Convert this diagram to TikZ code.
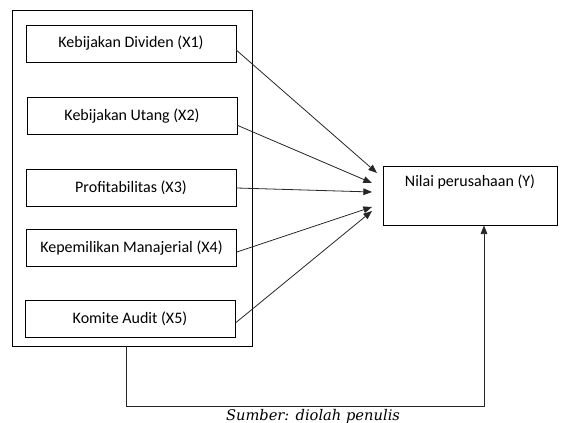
\documentclass[tikz,border=0pt]{standalone}
\usepackage{fontspec}
\setmainfont{Carlito}
\newfontfamily\capfont{DejaVu Serif}
\usetikzlibrary{arrows.meta}

\tikzset{
  varbox/.style={draw, line width=0.6pt, minimum width=157.5pt, minimum height=27.75pt, font=\fontsize{12}{14}\selectfont},
  arr/.style={draw=black!85, line width=0.6pt, -{Triangle[length=6.5pt,width=5pt]}}
}

\begin{document}
\begin{tikzpicture}[x=0.75pt,y=-0.75pt]
    \useasboundingbox (0,0) rectangle (561,423);

    % Outer box with the five variables
    \node[draw, line width=0.6pt, minimum width=180pt, minimum height=252pt] (grp) at (132,178) {};

    % Independent variables
    \node[varbox] (x1) at (131,43.5) {Kebijakan Dividen (X1)};
    \node[varbox] (x2) at (132,116) {Kebijakan Utang (X2)};
    \node[varbox] (x3) at (131,188) {Profitabilitas (X3)};
    \node[varbox] (x4) at (131.5,248) {Kepemilikan Manajerial (X4)};
    \node[varbox] (x5) at (130,319) {Komite Audit (X5)};

    % Dependent variable
    \node[draw, line width=0.6pt, minimum width=130.5pt, minimum height=44.25pt] (y) at (470,195.5) {};
    \node[anchor=north, font=\fontsize{12}{14}\selectfont] (ylab) at ([yshift=-3pt]y.north) {Nilai perusahaan (Y)};

    % Arrow ends
    \coordinate (t1) at (377,173);
    \coordinate (t2) at (372,183);
    \coordinate (t3) at (372,192);
    \coordinate (t4) at (372,207);
    \coordinate (t5) at (372,211);

    \draw[arr] ([yshift=-5pt]x1.east) -- (t1);
    \draw[arr] ([yshift=-7pt]x2.east) -- (t2);
    \draw[arr] (x3.east) -- (t3);
    \draw[arr] ([yshift=-3pt]x4.east) -- (t4);
    \draw[arr] ([yshift=-3pt]x5.east) -- (t5);

    % Line from the outer box to Y
    \draw[arr] ([xshift=-4.5pt]grp.south) -- ++(0,60) -| ([xshift=10.5pt]y.south);

    % Source
    \node[font=\capfont\itshape\fontsize{11}{13}\selectfont] (src) at (313,416) {Sumber: diolah penulis};
\end{tikzpicture}
\end{document}
